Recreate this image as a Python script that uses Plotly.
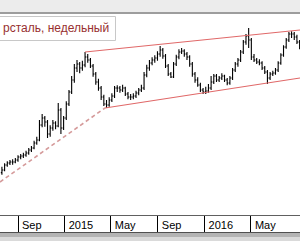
import plotly.graph_objects as go
import pandas as pd

# weekly bars (Monday dates)
start_date = "2014-07-21"
n_bars = 112
dates = pd.date_range(start_date, periods=n_bars, freq="7D")

opens = [482, 490, 505, 511, 514, 514, 520, 529, 532, 535, 541, 550, 556, 571, 580, 625,
         646, 634, 598, 616, 631, 622, 670, 616, 646, 688, 724, 760, 796, 808, 796, 805,
         829, 820, 802, 778, 754, 736, 709, 688, 685, 700, 712, 736, 736, 730, 736, 718,
         709, 709, 712, 721, 730, 736, 775, 796, 811, 820, 826, 838, 850, 832, 802, 778,
         769, 808, 829, 844, 847, 838, 829, 808, 778, 760, 745, 730, 724, 727, 736, 754,
         772, 760, 766, 772, 760, 751, 766, 790, 808, 820, 844, 874, 892, 880, 829, 820,
         814, 811, 796, 784, 766, 778, 781, 790, 811, 835, 859, 880, 898, 898, 889, 874]
highs = [500, 510, 516, 520, 522, 526, 534, 538, 542, 548, 556, 562, 578, 590, 640, 658,
         652, 640, 624, 640, 636, 691, 676, 652, 696, 730, 772, 808, 820, 814, 818, 844,
         838, 826, 808, 784, 764, 742, 716, 700, 708, 720, 742, 744, 742, 746, 740, 724,
         718, 720, 728, 736, 746, 784, 806, 820, 828, 834, 846, 862, 856, 838, 808, 784,
         814, 836, 852, 856, 852, 844, 834, 814, 784, 768, 752, 736, 740, 748, 772, 778,
         778, 772, 780, 776, 766, 772, 796, 814, 826, 850, 880, 898, 916, 886, 838, 826,
         822, 816, 802, 790, 784, 788, 796, 816, 840, 864, 886, 904, 906, 904, 896, 880]
lows = [476, 486, 500, 505, 506, 510, 515, 522, 526, 530, 536, 544, 552, 566, 576, 618,
        620, 586, 590, 608, 612, 618, 598, 610, 640, 682, 718, 752, 784, 780, 788, 798,
        812, 796, 770, 746, 728, 700, 682, 676, 680, 694, 706, 724, 722, 724, 712, 702,
        700, 702, 706, 714, 724, 730, 768, 788, 804, 812, 818, 830, 824, 796, 772, 766,
        766, 802, 822, 838, 830, 820, 800, 770, 752, 740, 724, 718, 718, 722, 730, 748,
        754, 754, 760, 754, 744, 746, 760, 784, 800, 814, 838, 866, 856, 820, 814, 808,
        804, 790, 778, 748, 760, 772, 776, 784, 806, 830, 854, 874, 886, 880, 868, 852]
closes = [490, 505, 511, 514, 514, 520, 529, 532, 535, 541, 550, 556, 571, 580, 625, 646,
          634, 598, 616, 631, 622, 670, 616, 646, 688, 724, 760, 796, 808, 796, 805, 829,
          820, 802, 778, 754, 736, 709, 688, 685, 700, 712, 736, 736, 730, 736, 718, 709,
          709, 712, 721, 730, 736, 775, 796, 811, 820, 826, 838, 850, 832, 802, 778, 769,
          808, 829, 844, 847, 838, 829, 808, 778, 760, 745, 730, 724, 727, 736, 754, 772,
          760, 766, 772, 760, 751, 766, 790, 808, 820, 844, 874, 892, 880, 829, 820, 814,
          811, 796, 784, 766, 778, 781, 790, 811, 835, 859, 880, 898, 898, 889, 874, 859]

# trend lines
upper_dates = ["2015-02-23", "2016-09-06"]
upper_prices = [844, 910]
lower_dates = ["2015-04-16", "2016-09-06"]
lower_prices = [676, 766]
support_dates = ["2014-07-16", "2015-04-16"]
support_prices = [454, 676]

tick_dates = ["2014-09-01", "2015-01-01", "2015-05-01", "2015-09-01", "2016-01-01", "2016-05-01"]
tick_labels = ["Sep", "2015", "May", "Sep", "2016", "May"]

title_text = "рсталь, недельный"

x_range = ["2014-07-16", "2016-09-06"]
y_range = [355, 958]

fig = go.Figure()
fig.add_trace(go.Scatter(x=support_dates, y=support_prices, mode="lines",
                         line=dict(color="#d59a9a", width=1.6, dash="4px,3px"),
                         hoverinfo="skip", showlegend=False))
fig.add_trace(go.Scatter(x=upper_dates, y=upper_prices, mode="lines",
                         line=dict(color="#e06868", width=1.2),
                         hoverinfo="skip", showlegend=False))
fig.add_trace(go.Scatter(x=lower_dates, y=lower_prices, mode="lines",
                         line=dict(color="#e06868", width=1.2),
                         hoverinfo="skip", showlegend=False))
fig.add_trace(go.Ohlc(x=dates, open=opens, high=highs, low=lows, close=closes,
                      increasing=dict(line=dict(color="#000000", width=1.1)),
                      decreasing=dict(line=dict(color="#000000", width=1.1)),
                      tickwidth=0.4, showlegend=False, hoverinfo="skip"))

PT, PB = 14, 215  # plot top / bottom in px
H = PB - PT
def py(p):
    return (PB - p) / H

shapes = [
    dict(type="rect", xref="paper", yref="paper", x0=0, x1=1, y0=py(12), y1=py(0),
         fillcolor="#ececec", line=dict(width=0), layer="below"),
    dict(type="line", xref="paper", yref="paper", x0=0, x1=1, y0=py(13), y1=py(13),
         line=dict(color="#7d7d7d", width=1.5)),
    dict(type="rect", xref="paper", yref="paper", x0=-0.01, x1=115.5 / 300, y0=py(40.5), y1=py(16.5),
         fillcolor="#ffffff", line=dict(color="#c8c8c8", width=1), layer="above"),
    dict(type="line", xref="paper", yref="paper", x0=0, x1=1, y0=py(232.5), y1=py(232.5),
         line=dict(color="#505050", width=1)),
    dict(type="rect", xref="paper", yref="paper", x0=0, x1=1, y0=py(237), y1=py(233),
         fillcolor="#b4b4b4", line=dict(width=0)),
    dict(type="rect", xref="paper", yref="paper", x0=0, x1=1, y0=py(241), y1=py(237),
         fillcolor="#dadada", line=dict(width=0)),
]

fig.update_layout(
    width=300, height=250,
    margin=dict(l=0, r=0, t=PT, b=250 - PB),
    paper_bgcolor="#ffffff", plot_bgcolor="#ffffff",
    shapes=shapes,
    annotations=[dict(text=title_text, xref="paper", yref="paper", x=1 / 300, y=py(28.5),
                      xanchor="left", yanchor="middle", showarrow=False,
                      font=dict(family="Liberation Sans", size=12, color="#983030"))],
    xaxis=dict(type="date", range=x_range, rangeslider=dict(visible=False),
               showgrid=False, zeroline=False, showline=True, linecolor="#606060", linewidth=1,
               tickvals=tick_dates, ticktext=tick_labels,
               ticks="outside", ticklen=17, tickwidth=1, tickcolor="#000000",
               ticklabelposition="outside right", ticklabelshift=3,
               tickfont=dict(family="Liberation Sans", size=11, color="#000000")),
    yaxis=dict(range=y_range, visible=False, showgrid=False, zeroline=False),
    showlegend=False,
)

fig.write_html("out.html")
